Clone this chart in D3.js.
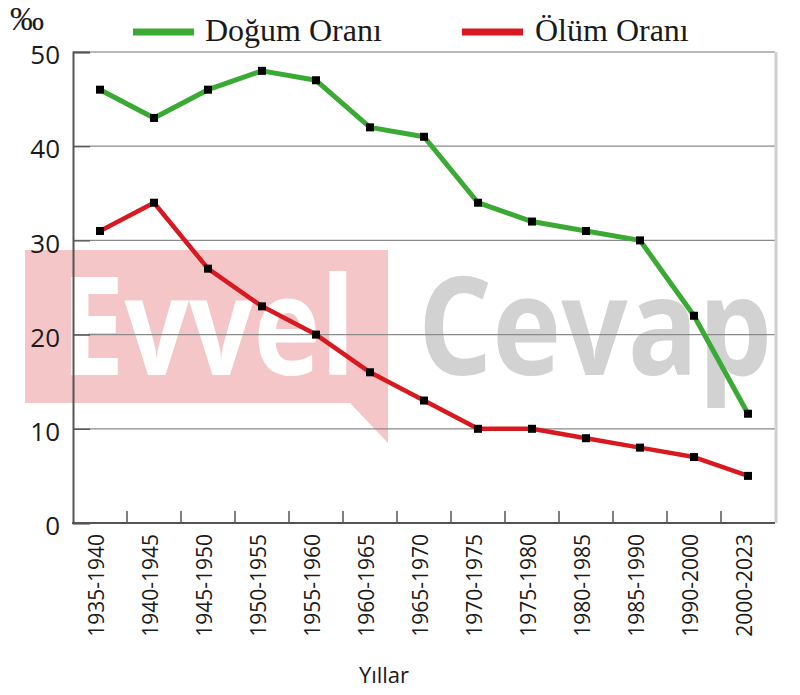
<!DOCTYPE html>
<html><head><meta charset="utf-8">
<script src="https://cdn.jsdelivr.net/npm/d3@7"></script>
<style>body{margin:0;background:#fff}svg{display:block}</style>
</head><body>
<svg id="c" width="800" height="695"></svg>
<script>
const categories = ["1935-1940","1940-1945","1945-1950","1950-1955","1955-1960","1960-1965","1965-1970","1970-1975","1975-1980","1980-1985","1985-1990","1990-2000","2000-2023"];
const birthRate = [46,43,46,48,47,42,41,34,32,31,30,22,11.6];
const deathRate = [31,34,27,23,20,16,13,10,10,9,8,7,5];
const yTicks = [0,10,20,30,40,50];
const seriesNames = ["Doğum Oranı","Ölüm Oranı"];
const seriesColors = ["#3aaa35","#d8191f"];

const svg = d3.select("#c");
const L = 73, R = 775, T = 52, B = 523;
const x = d3.scaleBand().domain(categories).range([L, R]);
const y = d3.scaleLinear().domain([0, 50]).range([B, T]);

// watermark (under chart lines)
const wm = svg.append("g");
wm.append("path")
  .attr("d", `M25,250 H388 V443 L350,403 H25 Z`)
  .attr("fill", "#f5c6c8");
wm.append("text").attr("transform", "translate(61,375) scale(1,1.06)")
  .attr("font-family", "Open Sans").attr("font-weight", 700).attr("font-size", 128)
  .attr("textLength", 294).attr("lengthAdjust", "spacingAndGlyphs")
  .attr("fill", "#fff").text("Evvel");
wm.append("text").attr("transform", "translate(418,375) scale(1,1.06)")
  .attr("font-family", "Open Sans").attr("font-weight", 700).attr("font-size", 128)
  .attr("textLength", 354).attr("lengthAdjust", "spacingAndGlyphs")
  .attr("fill", "#d2d2d2").text("Cevap");

// grid lines
svg.append("g").selectAll("line").data(yTicks.filter(d => d > 0)).join("line")
  .attr("x1", L).attr("x2", R)
  .attr("y1", d => y(d)).attr("y2", d => y(d))
  .attr("stroke", d => d === 50 ? "#a0a0a0" : "#8a8a8a").attr("stroke-width", 1.3);

// right border
svg.append("line").attr("x1", R + 1).attr("x2", R + 1).attr("y1", T).attr("y2", B)
  .attr("stroke", "#d0d0d0").attr("stroke-width", 3);

// y axis
const yAxis = d3.axisLeft(y).tickValues(yTicks).tickSize(-17).tickPadding(30);
const gy = svg.append("g").attr("transform", `translate(${L},0)`).call(yAxis);
gy.select(".domain").attr("stroke", "#555").attr("stroke-width", 2);
gy.selectAll(".tick line").attr("stroke", "#555").attr("stroke-width", 1.3);
gy.selectAll(".tick text").attr("font-family", "Open Sans").attr("font-size", 26)
  .attr("fill", "#1a1a1a").attr("x", -13).attr("dy", "0.45em");

// x axis
const gx = svg.append("g").attr("transform", `translate(0,${B})`);
gx.append("line").attr("x1", L - 1).attr("x2", R).attr("y1", 0).attr("y2", 0)
  .attr("stroke", "#555").attr("stroke-width", 2);
gx.selectAll("line.t").data(categories.slice(1)).join("line").attr("class", "t")
  .attr("x1", d => x(d)).attr("x2", d => x(d)).attr("y1", 0).attr("y2", -12)
  .attr("stroke", "#555").attr("stroke-width", 1.5);
gx.selectAll("text").data(categories).join("text")
  .attr("transform", d => `translate(${x(d) + x.bandwidth() / 2},11) rotate(-90)`)
  .attr("text-anchor", "end").attr("dy", "0.2em")
  .attr("font-family", "Open Sans").attr("font-size", 21).attr("fill", "#1a1a1a")
  .text(d => d);

svg.append("text").attr("x", 384).attr("y", 683).attr("text-anchor", "middle")
  .attr("font-family", "Open Sans").attr("font-size", 22).attr("fill", "#1a1a1a").text("Yıllar");

svg.append("text").attr("x", 10).attr("y", 30)
  .attr("font-family", "Liberation Serif").attr("font-size", 34).attr("fill", "#1a1a1a").text("‰");

// lines
const line = d3.line().x((d, i) => x(categories[i]) + x.bandwidth() / 2).y(d => y(d));
[birthRate, deathRate].forEach((s, k) => {
  svg.append("path").datum(s).attr("d", line).attr("fill", "none")
    .attr("stroke", seriesColors[k]).attr("stroke-width", k === 0 ? 5 : 4.5)
    .attr("stroke-linejoin", "round");
  svg.append("g").selectAll("rect").data(s).join("rect")
    .attr("x", (d, i) => x(categories[i]) + x.bandwidth() / 2 - 4)
    .attr("y", d => y(d) - 4).attr("width", 8).attr("height", 8).attr("fill", "#000");
});

// legend
const legX = [133, 462], legTX = [205, 535];
seriesNames.forEach((n, k) => {
  svg.append("line").attr("x1", legX[k]).attr("x2", legX[k] + 61).attr("y1", 32).attr("y2", 32)
    .attr("stroke", seriesColors[k]).attr("stroke-width", 7);
  svg.append("text").attr("x", legTX[k]).attr("y", 41)
    .attr("font-family", "Liberation Serif").attr("font-size", 32).attr("fill", "#1a1a1a").text(n);
});
</script>
</body></html>
